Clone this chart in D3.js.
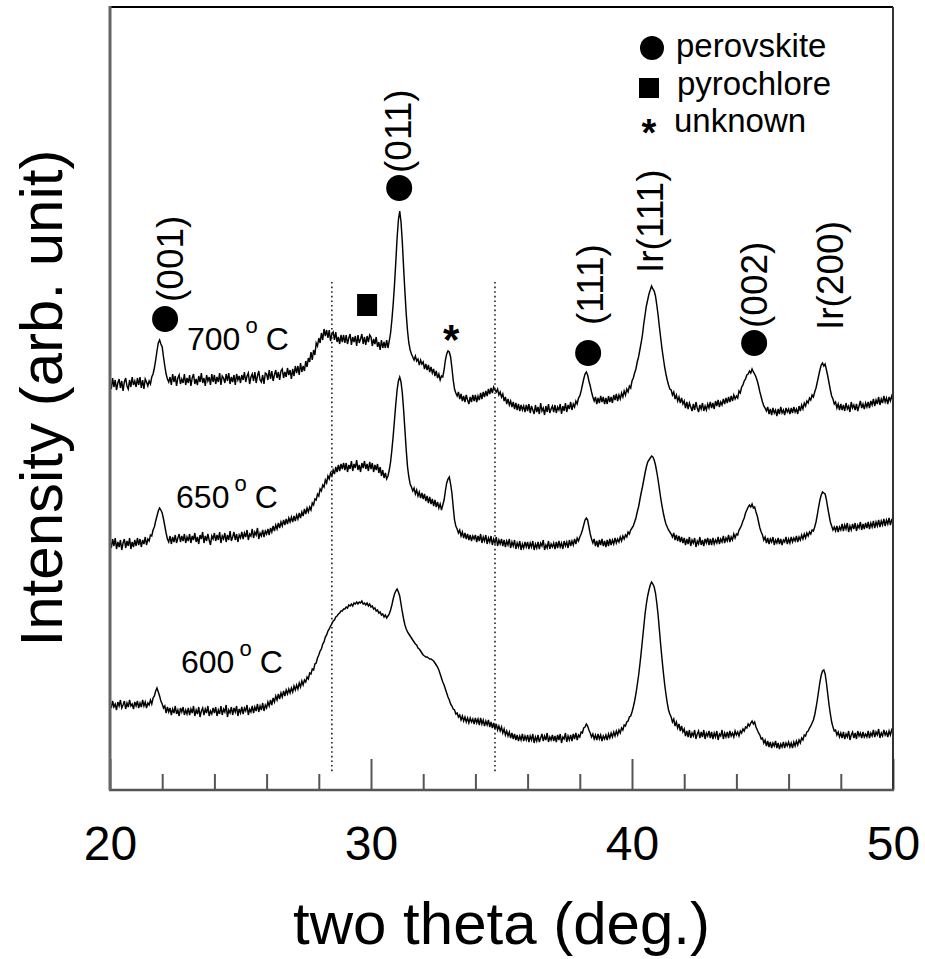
<!DOCTYPE html>
<html lang="en">
<head>
<meta charset="UTF-8">
<title>XRD patterns vs annealing temperature</title>
<style>
  body { margin: 0; background: #fff; }
  svg { display: block; font-family: "Liberation Sans", Arial, sans-serif; }
  .trace { fill: none; stroke: #000; stroke-width: 1.45; stroke-linejoin: miter; }
</style>
</head>
<body>
<div id="chart"></div>
<script src="https://d3js.org/d3.v7.min.js"></script>
<script>
// scans from 20 to 50 deg, 0.05 deg step (stacked intensities, arb. unit)
const startAngle = 20;
const stepAngle = 0.05;

const i700 = [
  408, 401, 412, 403, 410, 400, 407, 411, 402, 409, 399, 408, 412, 404, 401, 410, 403, 413, 405, 409,
  403, 412, 405, 413, 402, 410, 401, 411, 408, 404, 409, 406, 413, 416, 422, 430, 439, 447, 450, 446,
  443, 433, 424, 416, 411, 408, 413, 405, 416, 408, 414, 404, 412, 415, 406, 411, 407, 416, 405, 412,
  407, 415, 404, 412, 416, 406, 411, 405, 414, 408, 417, 407, 412, 404, 415, 409, 413, 405, 416, 408,
  415, 406, 413, 408, 417, 405, 414, 412, 407, 416, 409, 417, 406, 413, 408, 415, 405, 416, 410, 414,
  407, 415, 410, 418, 408, 414, 417, 406, 413, 416, 409, 418, 407, 414, 419, 410, 408, 415, 406, 417,
  416, 410, 420, 411, 419, 409, 415, 420, 412, 418, 410, 419, 421, 412, 418, 413, 422, 415, 420, 411,
  421, 414, 424, 417, 424, 415, 427, 418, 424, 419, 429, 423, 432, 428, 438, 430, 440, 435, 447, 444,
  452, 447, 457, 450, 461, 454, 460, 452, 460, 449, 456, 458, 450, 458, 448, 453, 446, 455, 448, 455,
  447, 455, 446, 452, 456, 445, 453, 448, 454, 444, 455, 447, 451, 456, 446, 453, 445, 454, 448, 455,
  453, 444, 451, 446, 453, 443, 448, 440, 450, 442, 448, 442, 450, 442, 449, 457, 470, 486, 505, 528,
  552, 570, 579, 568, 548, 522, 498, 476, 459, 447, 440, 436, 433, 430, 434, 429, 431, 425, 430, 426,
  428, 421, 426, 420, 425, 418, 423, 417, 421, 414, 419, 412, 416, 410, 414, 413, 420, 430, 436, 439,
  438, 433, 422, 410, 401, 397, 394, 398, 391, 396, 389, 394, 388, 395, 390, 386, 393, 388, 395, 389,
  395, 388, 394, 390, 397, 391, 398, 393, 399, 394, 401, 396, 402, 397, 403, 400, 398, 401, 395, 398,
  393, 396, 389, 393, 386, 391, 385, 389, 383, 388, 381, 387, 380, 386, 379, 385, 380, 384, 378, 385,
  379, 386, 377, 384, 380, 376, 385, 378, 383, 376, 387, 379, 382, 375, 384, 378, 386, 377, 381, 384,
  378, 385, 377, 383, 380, 386, 376, 384, 379, 387, 378, 385, 381, 388, 380, 386, 383, 389, 386, 392,
  394, 399, 405, 411, 416, 418, 415, 409, 404, 398, 393, 389, 393, 386, 392, 387, 394, 388, 393, 386,
  392, 386, 394, 388, 393, 387, 395, 390, 396, 389, 395, 391, 397, 393, 399, 395, 401, 398, 404, 402,
  409, 412, 417, 421, 428, 433, 440, 447, 455, 466, 475, 484, 490, 496, 500, 504, 501, 499, 494, 485,
  475, 463, 452, 441, 432, 423, 416, 410, 405, 401, 400, 395, 398, 391, 395, 389, 393, 387, 392, 386,
  389, 382, 388, 381, 387, 383, 379, 386, 380, 388, 382, 378, 385, 381, 387, 379, 384, 380, 386, 382,
  388, 382, 387, 381, 389, 384, 390, 383, 388, 385, 391, 386, 392, 387, 393, 388, 394, 389, 395, 391,
  394, 392, 399, 397, 403, 405, 409, 411, 415, 416, 419, 417, 421, 418, 416, 413, 409, 404, 398, 393,
  388, 384, 382, 379, 383, 376, 381, 375, 382, 377, 380, 374, 381, 376, 383, 377, 380, 375, 382, 378,
  381, 376, 382, 377, 383, 378, 381, 376, 384, 379, 385, 381, 387, 384, 389, 387, 392, 390, 395, 393,
  398, 402, 408, 414, 420, 425, 427, 424, 426, 420, 414, 407, 400, 394, 391, 386, 388, 382, 386, 380,
  386, 380, 385, 379, 387, 381, 384, 378, 388, 382, 385, 380, 386, 379, 384, 389, 382, 386, 381, 387,
  383, 388, 382, 389, 385, 391, 384, 390, 386, 393, 385, 391, 387, 394, 388, 392, 386, 393, 389, 394,
  390
];

const i650 = [
  249, 242, 251, 244, 252, 241, 248, 243, 250, 240, 247, 251, 242, 249, 244, 252, 241, 248, 243, 250,
  244, 252, 245, 251, 243, 250, 246, 253, 245, 251, 249, 255, 254, 260, 263, 269, 274, 279, 282, 280,
  277, 271, 264, 257, 251, 248, 254, 246, 253, 248, 255, 247, 252, 256, 248, 254, 249, 256, 247, 253,
  249, 256, 247, 254, 250, 257, 248, 253, 246, 255, 251, 258, 247, 254, 249, 256, 250, 245, 254, 251,
  257, 249, 255, 250, 258, 247, 254, 251, 257, 248, 255, 250, 259, 249, 253, 258, 250, 256, 248, 255,
  252, 258, 251, 257, 253, 260, 250, 256, 254, 261, 252, 258, 255, 262, 251, 257, 254, 260, 253, 259,
  256, 261, 255, 262, 258, 264, 259, 265, 261, 267, 262, 268, 264, 270, 265, 271, 266, 272, 268, 273,
  268, 274, 269, 275, 271, 277, 272, 278, 274, 281, 276, 282, 278, 283, 280, 287, 285, 291, 290, 296,
  294, 301, 299, 305, 303, 310, 307, 314, 311, 317, 314, 320, 316, 323, 318, 325, 319, 326, 321, 327,
  320, 327, 318, 325, 321, 329, 319, 326, 322, 330, 320, 325, 318, 327, 322, 329, 321, 326, 319, 328,
  321, 327, 318, 325, 320, 326, 317, 323, 314, 320, 312, 317, 311, 314, 320, 328, 340, 354, 370, 386,
  400, 409, 413, 408, 397, 380, 360, 340, 323, 313, 306, 303, 299, 302, 296, 300, 294, 298, 292, 297,
  291, 296, 289, 294, 287, 293, 286, 291, 284, 290, 283, 288, 282, 286, 280, 285, 290, 299, 307, 311,
  313, 306, 297, 283, 270, 264, 261, 257, 260, 254, 258, 252, 257, 251, 256, 250, 255, 249, 254, 251,
  255, 248, 254, 249, 256, 247, 253, 249, 255, 246, 252, 248, 254, 245, 251, 247, 253, 244, 250, 246,
  251, 244, 250, 243, 249, 245, 251, 242, 248, 244, 250, 241, 247, 243, 249, 240, 246, 242, 248, 243,
  248, 241, 247, 243, 249, 240, 246, 242, 248, 241, 247, 244, 250, 240, 245, 242, 249, 241, 246, 243,
  247, 241, 248, 242, 249, 243, 247, 241, 249, 244, 248, 242, 250, 244, 249, 245, 251, 246, 252, 249,
  253, 256, 260, 265, 270, 272, 270, 263, 256, 251, 247, 251, 244, 249, 243, 250, 245, 251, 244, 249,
  243, 250, 244, 251, 245, 250, 246, 252, 247, 251, 248, 253, 249, 254, 251, 255, 253, 258, 256, 260,
  262, 264, 268, 272, 278, 283, 290, 297, 303, 310, 317, 323, 328, 330, 332, 334, 333, 330, 325, 318,
  310, 301, 292, 284, 277, 271, 266, 263, 260, 258, 256, 253, 257, 250, 255, 249, 254, 248, 253, 247,
  252, 245, 251, 246, 253, 244, 250, 247, 252, 243, 249, 246, 253, 245, 250, 244, 251, 247, 252, 245,
  251, 245, 252, 246, 250, 247, 253, 246, 251, 248, 254, 247, 252, 249, 255, 248, 253, 250, 256, 252,
  256, 255, 260, 262, 265, 269, 272, 277, 280, 283, 285, 283, 286, 282, 283, 278, 274, 268, 262, 258,
  255, 250, 253, 247, 252, 246, 251, 248, 253, 245, 250, 247, 252, 246, 251, 245, 250, 248, 253, 246,
  251, 247, 253, 248, 252, 249, 254, 248, 253, 250, 255, 251, 256, 252, 257, 254, 258, 256, 260, 259,
  263, 268, 275, 283, 290, 295, 298, 297, 296, 290, 282, 275, 268, 264, 260, 263, 259, 264, 258, 263,
  260, 266, 259, 265, 261, 267, 258, 264, 260, 266, 261, 267, 259, 265, 262, 268, 260, 266, 261, 267,
  262, 268, 261, 267, 263, 269, 262, 268, 264, 270, 263, 269, 265, 271, 264, 270, 266, 272, 265, 270,
  268
];

const i600 = [
  87, 82, 89, 83, 86, 80, 88, 84, 90, 82, 85, 89, 81, 87, 83, 90, 84, 86, 81, 88,
  84, 89, 82, 87, 83, 90, 84, 88, 82, 87, 85, 90, 86, 92, 94, 99, 102, 98, 94, 89,
  86, 82, 84, 77, 83, 78, 82, 75, 81, 77, 84, 76, 80, 74, 82, 78, 83, 75, 80, 76,
  82, 75, 81, 77, 84, 74, 80, 76, 83, 73, 79, 82, 75, 81, 77, 84, 74, 79, 76, 82,
  77, 83, 74, 80, 76, 84, 75, 81, 78, 85, 73, 80, 77, 83, 75, 82, 78, 84, 74, 81,
  77, 83, 76, 82, 79, 85, 75, 81, 78, 84, 77, 83, 79, 86, 78, 84, 80, 87, 79, 85,
  82, 88, 84, 90, 85, 92, 88, 94, 90, 96, 91, 97, 93, 99, 94, 100, 96, 101, 97, 102,
  98, 104, 100, 105, 101, 107, 103, 109, 105, 110, 108, 113, 111, 117, 116, 121, 120, 126, 127, 132,
  135, 139, 141, 146, 148, 153, 155, 159, 161, 164, 166, 169, 170, 173, 174, 176, 177, 179, 179, 181,
  181, 183, 182, 185, 184, 186, 184, 187, 186, 188, 186, 188, 187, 189, 186, 187, 185, 187, 184, 186,
  183, 184, 181, 182, 179, 180, 177, 178, 175, 176, 173, 175, 172, 174, 176, 180, 185, 191, 196, 199,
  201, 198, 194, 186, 178, 171, 165, 161, 158, 156, 154, 152, 150, 148, 146, 145, 142, 141, 139, 137,
  135, 134, 133, 133, 132, 131, 131, 130, 129, 127, 125, 123, 120, 116, 112, 108, 105, 101, 97, 93,
  90, 86, 84, 81, 80, 76, 77, 73, 75, 70, 74, 69, 73, 68, 72, 67, 72, 68, 71, 66,
  72, 67, 71, 65, 72, 66, 70, 64, 69, 65, 70, 63, 68, 62, 67, 61, 66, 60, 64, 59,
  63, 57, 61, 55, 59, 54, 58, 52, 57, 51, 56, 50, 55, 49, 54, 50, 56, 49, 54, 50,
  55, 48, 54, 50, 56, 47, 53, 49, 55, 48, 52, 56, 49, 54, 50, 57, 48, 53, 50, 55,
  49, 54, 48, 55, 50, 56, 47, 53, 51, 57, 48, 54, 50, 55, 49, 56, 51, 57, 50, 55,
  53, 58, 57, 62, 63, 66, 64, 60, 57, 53, 56, 51, 55, 50, 56, 51, 55, 49, 54, 51,
  55, 50, 56, 52, 57, 53, 58, 54, 59, 55, 60, 57, 62, 60, 65, 64, 68, 69, 73, 74,
  78, 83, 89, 96, 105, 114, 125, 137, 150, 163, 176, 186, 194, 200, 205, 208, 206, 203, 197, 187,
  175, 160, 145, 131, 118, 106, 96, 87, 80, 76, 73, 68, 71, 64, 68, 62, 66, 59, 64, 58,
  61, 54, 59, 53, 60, 52, 57, 54, 60, 51, 56, 59, 52, 58, 53, 60, 51, 57, 54, 59,
  52, 58, 51, 57, 53, 59, 50, 56, 54, 60, 51, 57, 53, 58, 52, 59, 54, 57, 53, 59,
  55, 58, 54, 59, 57, 61, 59, 63, 62, 66, 64, 67, 69, 66, 68, 63, 60, 57, 55, 51,
  52, 47, 50, 44, 49, 43, 48, 42, 47, 44, 49, 42, 47, 41, 46, 43, 48, 42, 47, 44,
  48, 43, 47, 42, 48, 44, 49, 45, 50, 47, 52, 50, 55, 54, 58, 59, 62, 64, 67, 70,
  75, 82, 90, 99, 108, 115, 119, 120, 116, 107, 96, 85, 76, 68, 63, 59, 60, 55, 58, 53,
  57, 52, 58, 51, 56, 53, 59, 50, 55, 58, 52, 57, 51, 59, 54, 57, 52, 58, 53, 56,
  53, 59, 52, 57, 54, 60, 53, 58, 55, 61, 52, 57, 54, 60, 55, 58, 53, 59, 55, 60,
  57
];

const temperatures = ['700', '650', '600'];
const xMajorTicks = [20, 30, 40, 50];
const xMinorTicks = [22, 24, 26, 28, 32, 34, 36, 38, 42, 44, 46, 48];
const phaseBounds = [28.5, 34.75];
const peakNames = ['(001)', '(011)', '(111)', 'Ir(111)', '(002)', 'Ir(200)'];
const phaseNames = ['perovskite', 'pyrochlore', 'unknown'];

const width = 925, height = 959;
const margin = { top: 7, right: 32, bottom: 169, left: 110 };

const svg = d3.select('#chart').append('svg')
  .attr('width', width)
  .attr('height', height);

const x = d3.scaleLinear().domain([20, 50]).range([margin.left, width - margin.right]);
const y = d3.scaleLinear().domain([0, 783]).range([height - margin.bottom, margin.top]);

// traces
const line = d3.line()
  .x((d, i) => x(startAngle + i * stepAngle))
  .y(d => y(d));

svg.selectAll('.trace')
  .data([i700, i650, i600])
  .enter()
  .append('path')
  .attr('class', 'trace')
  .attr('d', line);

// dotted phase boundaries
svg.selectAll('.bound')
  .data(phaseBounds)
  .enter()
  .append('line')
  .attr('x1', d => x(d)).attr('x2', d => x(d))
  .attr('y1', y(508)).attr('y2', y(18))
  .attr('stroke', '#222')
  .attr('stroke-width', 1.6)
  .attr('stroke-dasharray', '1.6,3');

// ticks (inside)
svg.append('g')
  .attr('transform', `translate(0,${y(0)})`)
  .call(d3.axisBottom(x).tickValues(xMinorTicks).tickSize(-16).tickSizeOuter(0).tickFormat(''))
  .call(g => g.select('.domain').remove())
  .selectAll('line').attr('stroke', '#555').attr('stroke-width', 2);

svg.append('g')
  .attr('transform', `translate(0,${y(0)})`)
  .call(d3.axisBottom(x).tickValues(xMajorTicks).tickSize(-31).tickSizeOuter(0).tickPadding(36).tickFormat(d3.format('d')))
  .call(g => g.select('.domain').remove())
  .call(g => g.selectAll('line').attr('stroke', '#555').attr('stroke-width', 2))
  .call(g => g.selectAll('text')
    .attr('fill', '#000')
    .attr('font-size', 48)
    .attr('font-family', '"Liberation Sans", Arial, sans-serif'));

// frame
const x0 = x(20), x1 = x(50), yT = y(783), yB = y(0);
svg.append('line').attr('x1', x0).attr('x2', x1).attr('y1', yT).attr('y2', yT)
  .attr('stroke', '#000').attr('stroke-width', 2);
svg.append('line').attr('x1', x1).attr('x2', x1).attr('y1', yT).attr('y2', yB)
  .attr('stroke', '#333').attr('stroke-width', 2);
svg.append('line').attr('x1', x0 - 1).attr('x2', x1 + 1).attr('y1', yB).attr('y2', yB)
  .attr('stroke', '#555').attr('stroke-width', 2.5);
svg.append('line').attr('x1', x0).attr('x2', x0).attr('y1', yT - 1).attr('y2', yB)
  .attr('stroke', '#666').attr('stroke-width', 3);

// axis titles
svg.append('text')
  .attr('x', (x0 + x1) / 2).attr('y', 944)
  .attr('text-anchor', 'middle')
  .attr('font-size', 60)
  .text('two theta (deg.)');

svg.append('text')
  .attr('transform', 'translate(62,398) rotate(-90)')
  .attr('text-anchor', 'middle')
  .attr('font-size', 60)
  .text('Intensity (arb. unit)');

// temperature labels
const tempPos = [[22.95, 440], [22.53, 282], [22.72, 117]];
temperatures.forEach((t, k) => {
  const txt = svg.append('text')
    .attr('x', x(tempPos[k][0])).attr('y', y(tempPos[k][1]))
    .attr('font-size', 32);
  txt.append('tspan').text(t);
  txt.append('tspan').attr('font-size', 22).attr('dy', -17).attr('dx', 5).text('o');
  txt.append('tspan').attr('dy', 17).attr('dx', 8).text('C');
});

// phase markers on the 700 C trace
const circleMarks = [[22.11, 471], [31.08, 602], [38.32, 437], [44.68, 447]];
svg.selectAll('.pmark')
  .data(circleMarks)
  .enter()
  .append('circle')
  .attr('cx', d => x(d[0])).attr('cy', d => y(d[1]))
  .attr('r', 13)
  .attr('fill', '#000');

svg.append('rect')
  .attr('x', x(29.85) - 10).attr('y', y(485) - 11)
  .attr('width', 20).attr('height', 22)
  .attr('fill', '#000');

svg.append('text')
  .attr('x', x(33.07)).attr('y', y(460) + 24)
  .attr('text-anchor', 'middle')
  .attr('font-size', 42)
  .attr('font-weight', 'bold')
  .text('*');

// rotated peak labels: [deg of baseline, intensity of text start]
const peakPos = [[22.80, 488], [31.54, 617], [38.90, 465], [41.20, 517], [45.19, 462], [48.07, 460]];
peakNames.forEach((name, k) => {
  svg.append('text')
    .attr('transform', `translate(${x(peakPos[k][0])},${y(peakPos[k][1])}) rotate(-90)`)
    .attr('font-size', 37)
    .text(name);
});

// legend
const legend = svg.append('g');
legend.append('circle').attr('cx', 652).attr('cy', 48).attr('r', 12).attr('fill', '#000');
legend.append('rect').attr('x', 639).attr('y', 78).attr('width', 20).attr('height', 20).attr('fill', '#000');
legend.append('text').attr('x', 649).attr('y', 146).attr('text-anchor', 'middle')
  .attr('font-size', 38).attr('font-weight', 'bold').text('*');
legend.selectAll('.ltxt')
  .data(phaseNames)
  .enter()
  .append('text')
  .attr('x', (d, i) => [676, 677, 674][i])
  .attr('y', (d, i) => [57, 95, 132][i])
  .attr('font-size', 33)
  .text(d => d);
</script>
</body>
</html>
